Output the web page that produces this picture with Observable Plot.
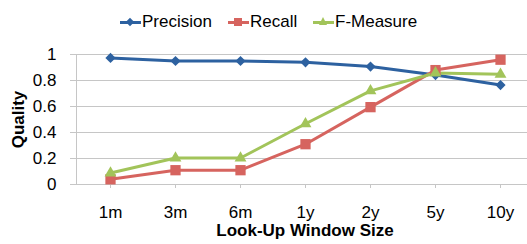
<!DOCTYPE html>
<html><head><meta charset="utf-8">
<script src="https://cdn.jsdelivr.net/npm/d3@7"></script>
<script src="https://cdn.jsdelivr.net/npm/@observablehq/plot@0.6"></script>
<style>
body{margin:0;background:#fff;font-family:"Liberation Sans",Arial,sans-serif;}
#wrap{width:527px;height:244px;position:relative;overflow:hidden;}
#legend{position:relative;height:40px;font-size:17px;color:#000;}
.item{position:absolute;top:12px;height:20px;display:flex;align-items:center;}
.sw{position:relative;width:21px;height:20px;margin-right:1px;}
.sw .ln{position:absolute;left:0;right:0;top:9px;height:3px;}
.mk{position:absolute;}
</style></head>
<body><div id="wrap"><div id="legend"></div><div id="chart"></div></div>
<script>
const categories = ["1m","3m","6m","1y","2y","5y","10y"];
const precision = [0.974,0.95,0.95,0.94,0.907,0.842,0.765];
const recall    = [0.04,0.11,0.11,0.31,0.595,0.88,0.96];
const fmeasure  = [0.088,0.204,0.204,0.467,0.72,0.858,0.848];
const seriesNames = ["Precision","Recall","F-Measure"];
const colors = ["#2D61A0","#D6645F","#A2C45A"];
const symbols = ["diamond2","square","triangle"];
const yTicks = [0,0.2,0.4,0.6,0.8,1];

const seriesVals = [precision, recall, fmeasure];
const data = [];
seriesNames.forEach((s,si)=>categories.forEach((c,i)=>data.push({series:s,cat:c,v:seriesVals[si][i]})));

// legend
const legend = document.getElementById("legend");
const lefts = [120,228,313];
seriesNames.forEach((s,i)=>{
  const it = document.createElement("div");
  it.className="item"; it.style.left = lefts[i]+"px";
  const sw = document.createElement("div"); sw.className="sw";
  const ln = document.createElement("div"); ln.className="ln"; ln.style.background=colors[i];
  sw.appendChild(ln);
  const mk = document.createElement("div"); mk.className="mk";
  if(i===0){ Object.assign(mk.style,{width:"6px",height:"6px",left:"7px",top:"7px",background:colors[i],transform:"rotate(45deg)"}); }
  else if(i===1){ Object.assign(mk.style,{width:"8px",height:"8px",left:"6px",top:"6px",background:colors[i]}); }
  else { Object.assign(mk.style,{width:"0",height:"0",left:"6px",top:"5px",borderLeft:"4.5px solid transparent",borderRight:"4.5px solid transparent",borderBottom:"8px solid "+colors[i]}); }
  sw.appendChild(mk);
  const t = document.createElement("span"); t.textContent = s;
  it.appendChild(sw); it.appendChild(t);
  legend.appendChild(it);
});

const grid = "#c6c6c6";
const chart = Plot.plot({
  width: 527, height: 204,
  marginLeft: 76, marginRight: 0, marginTop: 14, marginBottom: 60,
  style:{fontFamily:'"Liberation Sans",Arial,sans-serif', fontSize:"17px", color:"#000", background:"#fff"},
  x:{type:"point", domain:categories, range:[107,502], padding:0, label:null},
  y:{domain:[0,1], label:null},
  color:{domain:seriesNames, range:colors},
  symbol:{domain:seriesNames, range:symbols},
  marks:[
    Plot.gridY(yTicks, {stroke:grid, strokeOpacity:1, strokeWidth:1}),
    Plot.frame({anchor:"left", stroke:grid}),
    Plot.axisY({ticks:yTicks, tickSize:6, tickPadding:14, stroke:grid, tickFormat:d=>String(d), fontSize:17, label:null}),
    Plot.axisX({tickSize:4, tickPadding:17, stroke:grid, fontSize:17, label:null}),
    Plot.line(data, {x:"cat", y:"v", z:"series", stroke:"series", strokeWidth:3, curve:"linear"}),
    Plot.dot(data.filter(d=>d.series==="Precision"), {x:"cat", y:"v", symbol:"series", fill:"series", r:4.6}),
    Plot.dot(data.filter(d=>d.series==="Recall"), {x:"cat", y:"v", symbol:"series", fill:"series", r:5.8}),
    Plot.dot(data.filter(d=>d.series==="F-Measure"), {x:"cat", y:"v", symbol:"series", fill:"series", r:4.4}),
    Plot.text(["Quality"], {frameAnchor:"left", dx:-57.5, rotate:-90, fontWeight:"bold", fontSize:17, textAnchor:"middle", lineAnchor:"middle"}),
    Plot.text(["Look-Up Window Size"], {frameAnchor:"bottom", dy:46, dx:3, fontWeight:"bold", fontSize:17, textAnchor:"middle", lineAnchor:"middle"})
  ]
});
document.getElementById("chart").appendChild(chart);
</script></body></html>
